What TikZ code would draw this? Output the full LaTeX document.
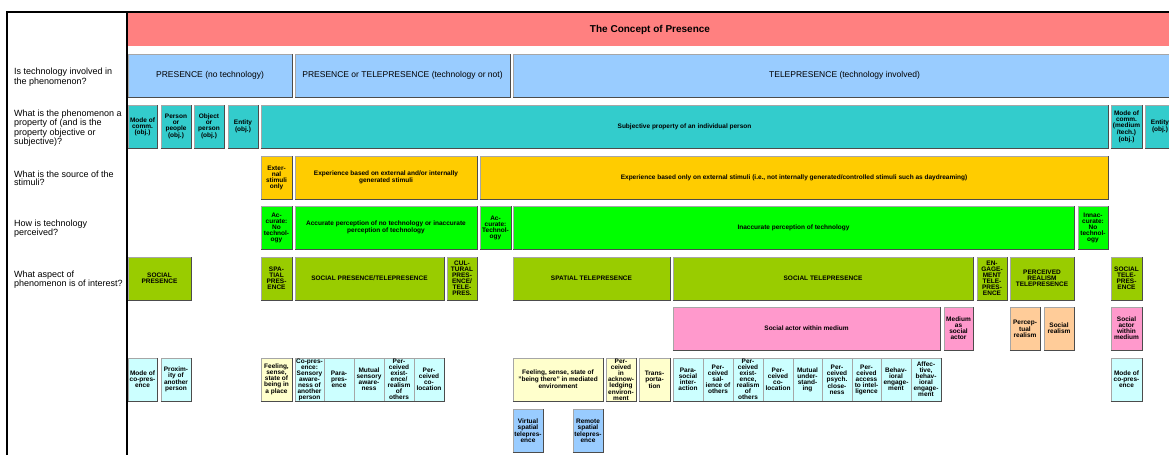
\documentclass[tikz,border=0pt]{standalone}
\usepackage{fontspec}
\setmainfont{Liberation Sans}
\definecolor{cTitle}{HTML}{FF8080}
\definecolor{cBlue}{HTML}{99CCFF}
\definecolor{cTeal}{HTML}{33CCCC}
\definecolor{cGold}{HTML}{FFCC00}
\definecolor{cGreen}{HTML}{00FF00}
\definecolor{cOlive}{HTML}{99CC00}
\definecolor{cPink}{HTML}{FF99CC}
\definecolor{cPeach}{HTML}{FFCC99}
\definecolor{cCyan}{HTML}{CCFFFF}
\definecolor{cYellow}{HTML}{FFFFCC}
\tikzset{
  box/.style={draw=black!35, line width=0.5pt, inner sep=0pt, align=center,
    font=\bfseries\fontsize{6.5}{6}\selectfont},
  shadeline/.style={draw=black!70, line width=0.8pt},
  techtext/.style={font=\fontsize{8.5}{10}\selectfont},
  question/.style={anchor=west, align=left, inner sep=0pt,
    font=\fontsize{9}{8.3}\selectfont},
  titlebar/.style={fill=cTitle, draw=none, inner sep=0pt,
    font=\bfseries\fontsize{10}{12}\selectfont},
  frameline/.style={draw=black, line width=2pt}
}
\newcommand\mybox[8][]{%
  \node[box, fill=#7, minimum width={(#5)-(#3)}, minimum height={(#6)-(#4)}, #1]
    (#2) at ({((#3)+(#5))/2},{((#4)+(#6))/2}) {#8};
  \draw[shadeline] (#2.south west) -- (#2.south east) -- (#2.north east);
}
\begin{document}
\begin{tikzpicture}[x=1pt,y=-1pt]
\useasboundingbox (0,0) rectangle (1169,455);
\fill[white] (0,0) rectangle (1169,455);
\clip (0,0) rectangle (1169,455);

% frame
\coordinate (fA) at (7,455);
\coordinate (fB) at (7,12);
\coordinate (fC) at (1172,12);
\coordinate (dA) at (127,12);
\coordinate (dB) at (127,455);
\draw[frameline] (fA) -- (fB) -- (fC);
\draw[frameline, line width=2.5pt] (dA) -- (dB);

% title
\node[titlebar, minimum width=1044, minimum height=33] (title) at (650,29.5) {The Concept of Presence};

% questions
\node[question] (q1) at (14,77) {Is technology involved in\\the phenomenon?};
\node[question] (q2) at (14,128) {What is the phenomenon a\\property of (and is the\\property objective or\\subjective)?};
\node[question] (q3) at (14,178.5) {What is the source of the\\stimuli?};
\node[question] (q4) at (14,228.5) {How is technology\\perceived?};
\node[question] (q5) at (14,279.5) {What aspect of\\phenomenon is of interest?};

% row 1
\mybox[techtext]{ra}{128}{54}{292}{97}{cBlue}{PRESENCE (no technology)}
\mybox[techtext]{rb}{295}{54}{510}{97}{cBlue}{PRESENCE or TELEPRESENCE (technology or not)}
\mybox[techtext]{rc}{513}{54}{1176}{97}{cBlue}{TELEPRESENCE (technology involved)}

% row 2
\mybox{pa}{128}{105}{157}{148}{cTeal}{Mode of\\comm.\\(obj.)}
\mybox{pb}{161}{105}{191}{148}{cTeal}{Person\\or\\people\\(obj.)}
\mybox{pc}{194}{105}{224}{148}{cTeal}{Object\\or\\person\\(obj.)}
\mybox{pd}{228}{105}{258}{148}{cTeal}{Entity\\(obj.)}
\mybox{pe}{261}{105}{1108}{148}{cTeal}{Subjective property of an individual person}
\mybox{pf}{1111}{105}{1142}{148}{cTeal}{Mode of\\comm.\\(medium\\/tech.)\\(obj.)}
\mybox{pg}{1145}{105}{1175}{148}{cTeal}{Entity\\(obj.)}

% row 3
\mybox{sa}{261}{156}{292}{199}{cGold}{Exter-\\nal\\stimuli\\only}
\mybox{sb}{295}{156}{477}{199}{cGold}{Experience based on external and/or internally\\generated stimuli}
\mybox{sc}{480}{156}{1108}{199}{cGold}{Experience based only on external stimuli (i.e., not internally generated/controlled stimuli such as daydreaming)}

% row 4
\mybox{ta}{261}{206}{292}{249}{cGreen}{Ac-\\curate:\\No\\technol-\\ogy}
\mybox{tb}{295}{206}{477}{249}{cGreen}{Accurate perception of no technology or inaccurate\\perception of technology}
\mybox{tc}{480}{206}{511}{249}{cGreen}{Ac-\\curate:\\Technol-\\ogy}
\mybox{td}{513}{206}{1074}{249}{cGreen}{Inaccurate perception of technology}
\mybox{te}{1078}{206}{1108}{249}{cGreen}{Innac-\\curate:\\No\\technol-\\ogy}

% row 5
\mybox{aa}{128}{257}{191}{300}{cOlive}{SOCIAL\\PRESENCE}
\mybox{ab}{261}{257}{292}{300}{cOlive}{SPA-\\TIAL\\PRES-\\ENCE}
\mybox{ac}{295}{257}{444}{300}{cOlive}{SOCIAL PRESENCE/TELEPRESENCE}
\mybox{ad}{447}{257}{477}{300}{cOlive}{CUL-\\TURAL\\PRES-\\ENCE/\\TELE-\\PRES.}
\mybox{ae}{513}{257}{670}{300}{cOlive}{SPATIAL TELEPRESENCE}
\mybox{af}{673}{257}{973}{300}{cOlive}{SOCIAL TELEPRESENCE}
\mybox{ag}{977}{257}{1007}{300}{cOlive}{EN-\\GAGE-\\MENT\\TELE-\\PRES-\\ENCE}
\mybox{ah}{1010}{257}{1074}{300}{cOlive}{PERCEIVED\\REALISM\\TELEPRESENCE}
\mybox{ai}{1111}{257}{1142}{300}{cOlive}{SOCIAL\\TELE-\\PRES-\\ENCE}

% row 6
\mybox{ba}{673}{307}{940}{350}{cPink}{Social actor within medium}
\mybox{bb}{944}{307}{973}{350}{cPink}{Medium\\as\\social\\actor}
\mybox{bc}{1010}{307}{1040}{350}{cPeach}{Percep-\\tual\\realism}
\mybox{bd}{1044}{307}{1074}{350}{cPeach}{Social\\realism}
\mybox{be}{1111}{307}{1142}{350}{cPink}{Social\\actor\\within\\medium}

% row 7
\mybox{ca}{128}{358}{157}{401}{cCyan}{Mode of\\co-pres-\\ence}
\mybox{cb}{161}{358}{191}{401}{cCyan}{Proxim-\\ity of\\another\\person}
\mybox{cc}{261}{358}{292}{401}{cYellow}{Feeling,\\sense,\\state of\\being in\\a place}
\mybox{cd}{295}{358}{324}{401}{cCyan}{Co-pres-\\ence:\\Sensory\\aware-\\ness of\\another\\person}
\mybox{ce}{324}{358}{354}{401}{cCyan}{Para-\\pres-\\ence}
\mybox{cf}{354}{358}{384}{401}{cCyan}{Mutual\\sensory\\aware-\\ness}
\mybox{cg}{384}{358}{414}{401}{cCyan}{Per-\\ceived\\exist-\\ence/\\realism\\of\\others}
\mybox{ch}{414}{358}{444}{401}{cCyan}{Per-\\ceived\\co-\\location}
\mybox{ci}{513}{358}{603}{401}{cYellow}{Feeling, sense, state of\\"being there" in mediated\\environment}
\mybox{cj}{606}{358}{636}{401}{cYellow}{Per-\\ceived\\in\\acknow-\\ledging\\environ-\\ment}
\mybox{ck}{639}{358}{670}{401}{cYellow}{Trans-\\porta-\\tion}
\mybox{cl}{673}{358}{703}{401}{cCyan}{Para-\\social\\inter-\\action}
\mybox{cm}{703}{358}{733}{401}{cCyan}{Per-\\ceived\\sal-\\ience of\\others}
\mybox{cn}{733}{358}{763}{401}{cCyan}{Per-\\ceived\\exist-\\ence,\\realism\\of\\others}
\mybox{co}{763}{358}{793}{401}{cCyan}{Per-\\ceived\\co-\\location}
\mybox{cp}{793}{358}{822}{401}{cCyan}{Mutual\\under-\\stand-\\ing}
\mybox{cq}{822}{358}{852}{401}{cCyan}{Per-\\ceived\\psych.\\close-\\ness}
\mybox{cr}{852}{358}{881}{401}{cCyan}{Per-\\ceived\\access\\to intel-\\ligence}
\mybox{cs}{881}{358}{911}{401}{cCyan}{Behav-\\ioral\\engage-\\ment}
\mybox{ct}{911}{358}{941}{401}{cCyan}{Affec-\\tive,\\behav-\\ioral\\engage-\\ment}
\mybox{cu}{1111}{358}{1142}{401}{cCyan}{Mode of\\co-pres-\\ence}

% row 8
\mybox{da}{513}{409}{543}{452}{cBlue}{Virtual\\spatial\\telepres-\\ence}
\mybox{db}{573}{409}{603}{452}{cBlue}{Remote\\spatial\\telepres-\\ence}
\end{tikzpicture}
\end{document}
